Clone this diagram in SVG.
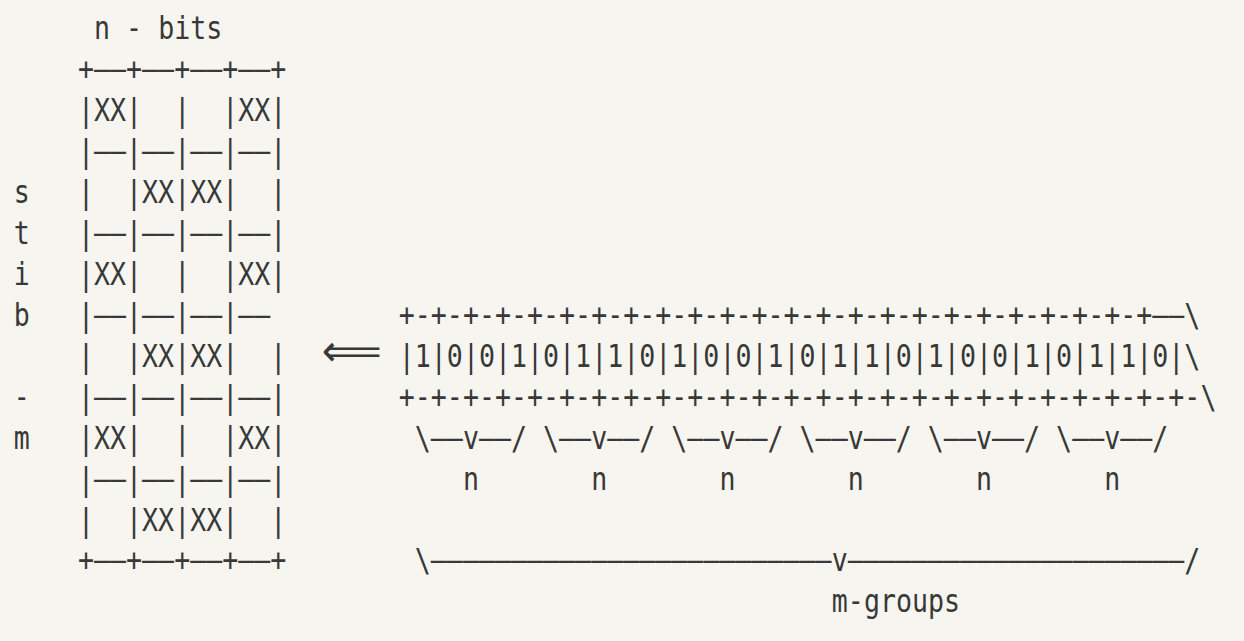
<svg xmlns="http://www.w3.org/2000/svg" width="1244" height="641" viewBox="0 0 1244 641" xml:space="preserve">
<style>
  .t { font-family: "DejaVu Sans Mono", "Liberation Mono", monospace; font-size: 26.64px; fill: #383838; white-space: pre; }
  .arr { font-family: "DejaVu Sans", "DejaVu Sans Mono", sans-serif; font-size: 44px; fill: #383838; }
</style>
<rect width="1244" height="641" fill="#f7f5f0"/>
<g id="title">
  <text class="t" transform="translate(94.0,39.3) scale(1,1.18)">n - bits</text>
</g>
<g id="side-label">
  <text class="t" transform="translate(13.8,203.0) scale(1,1.18)">s</text>
  <text class="t" transform="translate(13.8,243.9) scale(1,1.18)">t</text>
  <text class="t" transform="translate(13.8,284.9) scale(1,1.18)">i</text>
  <text class="t" transform="translate(13.8,325.8) scale(1,1.18)">b</text>
  <text class="t" transform="translate(13.8,407.7) scale(1,1.18)">-</text>
  <text class="t" transform="translate(13.8,448.6) scale(1,1.18)">m</text>
</g>
<g id="grid">
  <text class="t" transform="translate(77.96,80.2) scale(1,1.18)">+——+——+——+——+</text>
  <text class="t" transform="translate(77.96,121.2) scale(1,1.18)">|XX|  |  |XX|</text>
  <text class="t" transform="translate(77.96,162.1) scale(1,1.18)">|——|——|——|——|</text>
  <text class="t" transform="translate(77.96,203.0) scale(1,1.18)">|  |XX|XX|  |</text>
  <text class="t" transform="translate(77.96,243.9) scale(1,1.18)">|——|——|——|——|</text>
  <text class="t" transform="translate(77.96,284.9) scale(1,1.18)">|XX|  |  |XX|</text>
  <text class="t" transform="translate(77.96,325.8) scale(1,1.18)">|——|——|——|——</text>
  <text class="t" transform="translate(77.96,366.7) scale(1,1.18)">|  |XX|XX|  |</text>
  <text class="t" transform="translate(77.96,407.7) scale(1,1.18)">|——|——|——|——|</text>
  <text class="t" transform="translate(77.96,448.6) scale(1,1.18)">|XX|  |  |XX|</text>
  <text class="t" transform="translate(77.96,489.5) scale(1,1.18)">|——|——|——|——|</text>
  <text class="t" transform="translate(77.96,530.5) scale(1,1.18)">|  |XX|XX|  |</text>
  <text class="t" transform="translate(77.96,571.4) scale(1,1.18)">+——+——+——+——+</text>
</g>
<g id="connectors">
  <text class="arr" x="321.7" y="366" textLength="60" lengthAdjust="spacingAndGlyphs">⟸</text>
</g>
<g id="bits">
  <text class="t" transform="translate(398.76,325.8) scale(1,1.18)">+-+-+-+-+-+-+-+-+-+-+-+-+-+-+-+-+-+-+-+-+-+-+-+——\</text>
  <text class="t" transform="translate(398.76,366.7) scale(1,1.18)">|1|0|0|1|0|1|1|0|1|0|0|1|0|1|1|0|1|0|0|1|0|1|1|0|\</text>
  <text class="t" transform="translate(398.76,407.7) scale(1,1.18)">+-+-+-+-+-+-+-+-+-+-+-+-+-+-+-+-+-+-+-+-+-+-+-+-+-\</text>
</g>
<g id="groups">
  <text class="t" transform="translate(414.8,448.6) scale(1,1.18)">\——v——/ \——v——/ \——v——/ \——v——/ \——v——/ \——v——/</text>
  <text class="t" transform="translate(462.9,489.5) scale(1,1.18)">n       n       n       n       n       n</text>
</g>
<g id="m-groups">
  <text class="t" transform="translate(414.8,571.4) scale(1,1.18)">\—————————————————————————v—————————————————————/</text>
  <text class="t" transform="translate(831.84,612.3) scale(1,1.18)">m-groups</text>
</g>
</svg>
